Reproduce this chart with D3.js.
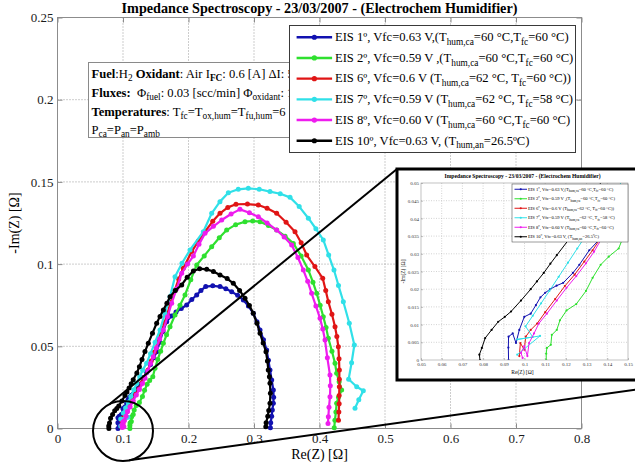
<!DOCTYPE html>
<html>
<head>
<meta charset="utf-8">
<script src="https://cdn.jsdelivr.net/npm/d3@7"></script>
<style>
  body { margin: 0; background: #fff; }
  svg { display: block; }
  text { font-family: "Liberation Serif", "Times New Roman", serif; white-space: pre; }
</style>
</head>
<body>
<svg id="chart" width="635" height="470"></svg>
<script>
// ---- data -------------------------------------------------------------
const chartTitle = "Impedance Spectroscopy - 23/03/2007 - (Electrochem Humidifier)";
const xLabel = "Re(Z) [Ω]";
const yLabel = "-Im(Z) [Ω]";

const xTicks = [0, 0.1, 0.2, 0.3, 0.4, 0.5, 0.6, 0.7, 0.8];
const yTicks = [0, 0.05, 0.1, 0.15, 0.2, 0.25];
const insetXTicks = [0.05, 0.06, 0.07, 0.08, 0.09, 0.1, 0.11, 0.12, 0.13, 0.14, 0.15];
const insetYTicks = [0, 0.005, 0.01, 0.015, 0.02, 0.025, 0.03, 0.035, 0.04, 0.045, 0.05];

// Nyquist points [Re(Z), -Im(Z)] in ohm
const eis1 = [[0.0923,0.0000],[0.0922,0.0035],[0.0923,0.0066],[0.0943,0.0075],[0.0959,0.0048],[0.0975,0.0085],[0.0999,0.0122],[0.1030,0.0131],[0.1055,0.0155],[0.1077,0.0177],[0.1100,0.0190],[0.1124,0.0200],[0.1155,0.0210],[0.1187,0.0218],[0.1234,0.0246],[0.1265,0.0269],[0.1313,0.0310],[0.1361,0.0340],[0.1420,0.0390],[0.1470,0.0430],[0.1514,0.0467],[0.1560,0.0525],[0.1610,0.0590],[0.1667,0.0650],[0.1740,0.0685],[0.1810,0.0708],[0.1890,0.0730],[0.1972,0.0751],[0.2050,0.0785],[0.2125,0.0812],[0.2190,0.0840],[0.2263,0.0863],[0.2370,0.0868],[0.2481,0.0863],[0.2570,0.0850],[0.2659,0.0832],[0.2750,0.0810],[0.2837,0.0782],[0.2915,0.0745],[0.2989,0.0701],[0.3045,0.0650],[0.3092,0.0599],[0.3145,0.0540],[0.3193,0.0477],[0.3220,0.0415],[0.3244,0.0356],[0.3270,0.0295],[0.3295,0.0234],[0.3300,0.0190],[0.3295,0.0153],[0.3280,0.0113],[0.3270,0.0075],[0.3255,0.0035],[0.3250,0.0005]];

const eis2 = [[0.1105,0.0000],[0.1105,0.0018],[0.1108,0.0034],[0.1127,0.0043],[0.1132,0.0071],[0.1156,0.0085],[0.1171,0.0112],[0.1203,0.0140],[0.1250,0.0158],[0.1297,0.0195],[0.1329,0.0232],[0.1368,0.0269],[0.1407,0.0292],[0.1455,0.0315],[0.1489,0.0366],[0.1530,0.0420],[0.1575,0.0470],[0.1616,0.0518],[0.1665,0.0570],[0.1718,0.0619],[0.1794,0.0690],[0.1870,0.0750],[0.1947,0.0812],[0.2035,0.0905],[0.2125,0.0995],[0.2240,0.1050],[0.2354,0.1106],[0.2470,0.1160],[0.2583,0.1207],[0.2720,0.1240],[0.2863,0.1258],[0.2980,0.1262],[0.3092,0.1258],[0.3220,0.1235],[0.3346,0.1207],[0.3475,0.1170],[0.3600,0.1126],[0.3720,0.1050],[0.3830,0.0964],[0.3900,0.0890],[0.3957,0.0822],[0.4010,0.0750],[0.4058,0.0680],[0.4100,0.0615],[0.4135,0.0549],[0.4190,0.0470],[0.4237,0.0397],[0.4262,0.0336],[0.4300,0.0285],[0.4338,0.0234],[0.4290,0.0190],[0.4262,0.0153],[0.4250,0.0100],[0.4235,0.0050],[0.4225,0.0005]];

const eis6 = [[0.0975,0.0011],[0.0980,0.0048],[0.0999,0.0029],[0.1006,0.0066],[0.1030,0.0085],[0.1061,0.0103],[0.1100,0.0135],[0.1148,0.0172],[0.1195,0.0209],[0.1242,0.0241],[0.1289,0.0278],[0.1329,0.0310],[0.1380,0.0355],[0.1430,0.0410],[0.1480,0.0465],[0.1530,0.0525],[0.1580,0.0585],[0.1630,0.0640],[0.1680,0.0700],[0.1730,0.0770],[0.1790,0.0840],[0.1850,0.0910],[0.1920,0.0975],[0.2049,0.1076],[0.2150,0.1140],[0.2252,0.1197],[0.2370,0.1260],[0.2481,0.1309],[0.2600,0.1345],[0.2725,0.1364],[0.2900,0.1365],[0.3066,0.1359],[0.3200,0.1340],[0.3346,0.1309],[0.3490,0.1255],[0.3626,0.1197],[0.3720,0.1130],[0.3804,0.1055],[0.3930,0.0985],[0.4049,0.0914],[0.4095,0.0840],[0.4135,0.0771],[0.4190,0.0695],[0.4237,0.0619],[0.4265,0.0560],[0.4288,0.0498],[0.4298,0.0425],[0.4303,0.0356],[0.4303,0.0300],[0.4303,0.0254],[0.4300,0.0200],[0.4300,0.0150],[0.4295,0.0100],[0.4290,0.0050]];

const eis7 = [[0.0965,0.0015],[0.1075,0.0068],[0.0965,0.0058],[0.1040,0.0065],[0.1005,0.0095],[0.1040,0.0125],[0.1080,0.0160],[0.1120,0.0195],[0.1165,0.0235],[0.1210,0.0275],[0.1255,0.0315],[0.1300,0.0355],[0.1360,0.0397],[0.1420,0.0455],[0.1490,0.0525],[0.1565,0.0599],[0.1640,0.0700],[0.1718,0.0802],[0.1794,0.0923],[0.1900,0.1005],[0.2023,0.1086],[0.2226,0.1197],[0.2354,0.1309],[0.2480,0.1380],[0.2608,0.1434],[0.2760,0.1455],[0.2913,0.1461],[0.3080,0.1455],[0.3244,0.1441],[0.3400,0.1428],[0.3550,0.1406],[0.3690,0.1350],[0.3830,0.1279],[0.3945,0.1215],[0.4058,0.1147],[0.4140,0.1055],[0.4221,0.0964],[0.4290,0.0870],[0.4364,0.0771],[0.4455,0.0640],[0.4532,0.0508],[0.4490,0.0400],[0.4445,0.0300],[0.4568,0.0254],[0.4669,0.0230],[0.4600,0.0175],[0.4542,0.0123]];

const eis8 = [[0.0991,0.0006],[0.0983,0.0020],[0.0999,0.0039],[0.1014,0.0011],[0.1022,0.0048],[0.1046,0.0075],[0.1069,0.0103],[0.1108,0.0131],[0.1156,0.0168],[0.1203,0.0204],[0.1250,0.0237],[0.1297,0.0273],[0.1336,0.0306],[0.1380,0.0350],[0.1420,0.0395],[0.1463,0.0437],[0.1510,0.0490],[0.1560,0.0545],[0.1616,0.0599],[0.1680,0.0680],[0.1743,0.0762],[0.1820,0.0850],[0.1896,0.0944],[0.1985,0.1000],[0.2074,0.1049],[0.2160,0.1120],[0.2252,0.1187],[0.2380,0.1230],[0.2507,0.1268],[0.2650,0.1305],[0.2786,0.1333],[0.2930,0.1312],[0.3066,0.1288],[0.3200,0.1250],[0.3346,0.1207],[0.3460,0.1165],[0.3575,0.1116],[0.3670,0.1040],[0.3753,0.0964],[0.3820,0.0895],[0.3880,0.0822],[0.3945,0.0745],[0.4008,0.0670],[0.4050,0.0605],[0.4084,0.0538],[0.4120,0.0430],[0.4160,0.0325],[0.4165,0.0260],[0.4160,0.0193],[0.4145,0.0130],[0.4135,0.0072],[0.4130,0.0030]];

const eis10 = [[0.0785,0.0000],[0.0782,0.0015],[0.0794,0.0034],[0.0810,0.0062],[0.0841,0.0085],[0.0873,0.0108],[0.0905,0.0122],[0.0935,0.0137],[0.0983,0.0168],[0.1030,0.0200],[0.1060,0.0222],[0.1093,0.0246],[0.1125,0.0272],[0.1156,0.0296],[0.1211,0.0338],[0.1250,0.0375],[0.1290,0.0420],[0.1335,0.0468],[0.1386,0.0518],[0.1450,0.0580],[0.1514,0.0640],[0.1565,0.0682],[0.1616,0.0721],[0.1670,0.0762],[0.1718,0.0802],[0.1800,0.0840],[0.1896,0.0873],[0.1980,0.0920],[0.2074,0.0958],[0.2170,0.0972],[0.2278,0.0968],[0.2380,0.0955],[0.2481,0.0934],[0.2590,0.0912],[0.2684,0.0883],[0.2780,0.0840],[0.2863,0.0792],[0.2930,0.0748],[0.2989,0.0701],[0.3045,0.0640],[0.3092,0.0579],[0.3140,0.0520],[0.3183,0.0467],[0.3205,0.0410],[0.3218,0.0356],[0.3235,0.0315],[0.3244,0.0275],[0.3250,0.0215],[0.3244,0.0153],[0.3225,0.0110],[0.3210,0.0075],[0.3185,0.0035],[0.3180,0.0010]];

// legend entries: [text, style] where style 0 = normal, 1 = subscript
const legendLabels = [
  [["EIS 1º, Vfc=0.63 V,(T",0],["hum,ca",1],["=60 °C,T",0],["fc",1],["=60 °C)",0]],
  [["EIS 2º, Vfc=0.59 V ,(T",0],["hum,ca",1],["=60 °C,T",0],["fc",1],["=60 °C)",0]],
  [["EIS 6º, Vfc=0.6 V (T",0],["hum,ca",1],["=62 °C, T",0],["fc",1],["=60 °C))",0]],
  [["EIS 7º, Vfc=0.59 V (T",0],["hum,ca",1],["=62 °C, T",0],["fc",1],["=58 °C)",0]],
  [["EIS 8º, Vfc=0.60 V (T",0],["hum,ca",1],["=60 °C,T",0],["fc",1],["=60 °C)",0]],
  [["EIS 10º, Vfc=0.63 V, (T",0],["hum,an",1],["=26.5ºC)",0]]
];
const seriesColors = ["#1212b0", "#2fe02f", "#e01515", "#30e0e8", "#ee1cee", "#000000"];
const seriesData = [eis1, eis2, eis6, eis7, eis8, eis10];

// test conditions box: style b = bold, s = subscript, sb = bold subscript
const noteLines = [
  [["Fuel","b"],[":H",""],["2","s"],[" Oxidant","b"],[": Air I",""],["FC","sb"],[": 0.6 [A] ΔI: 5",""]],
  [["Fluxes:","b"],["  Φ",""],["fuel","s"],[": 0.03 [scc/min] Φ",""],["oxidant","s"],[": 1",""]],
  [["Temperatures","b"],[": T",""],["fc","s"],["=T",""],["ox,hum","s"],["=T",""],["fu,hum","s"],["=6",""]],
  [["P",""],["ca","s"],["=P",""],["an","s"],["=P",""],["amb","s"]]
];

// ---- helpers ----------------------------------------------------------
function richText(textSel, segs, fs) {
  let shift = 0;
  segs.forEach(([t, st]) => {
    const sub = (st === 1 || st === "s" || st === "sb");
    const bold = (st === "b" || st === "sb");
    const target = sub ? 0.3 * fs : 0;
    textSel.append("tspan")
      .attr("dy", target - shift)
      .attr("font-size", sub ? fs * 0.74 : fs)
      .attr("font-weight", bold ? "bold" : "normal")
      .text(t);
    shift = target;
  });
}

const svg = d3.select("#chart");

// ---- main axes --------------------------------------------------------
const x = d3.scaleLinear().domain([0, 0.8]).range([57.5, 581.5]);
const y = d3.scaleLinear().domain([0, 0.25]).range([428.5, 17.5]);

const main = svg.append("g");

// dotted grid
main.append("g").selectAll("line").data(xTicks.slice(1, -1)).join("line")
  .attr("x1", d => x(d)).attr("x2", d => x(d))
  .attr("y1", y(0.25)).attr("y2", y(0))
  .attr("stroke", "#9a9a9a").attr("stroke-width", 1).attr("stroke-dasharray", "1,2");
main.append("g").selectAll("line").data(yTicks.slice(1, -1)).join("line")
  .attr("y1", d => y(d)).attr("y2", d => y(d))
  .attr("x1", x(0)).attr("x2", x(0.8))
  .attr("stroke", "#9a9a9a").attr("stroke-width", 1).attr("stroke-dasharray", "1,2");

function styleAxis(g, fs) {
  g.select(".domain").remove();
  g.selectAll(".tick line").attr("stroke", "#8c8c8c");
  g.selectAll(".tick text").attr("fill", "#1a1a1a").attr("font-size", fs)
    .attr("font-family", "Liberation Serif, Times New Roman, serif");
}
const fmt = d => String(d);
main.append("g").attr("transform", `translate(0,${y(0)})`)
  .call(d3.axisBottom(x).tickValues(xTicks).tickFormat(fmt).tickSizeInner(-5).tickSizeOuter(0).tickPadding(5))
  .call(g => styleAxis(g, 13));
main.append("g").attr("transform", `translate(0,${y(0.25)})`)
  .call(d3.axisTop(x).tickValues(xTicks).tickFormat("").tickSizeInner(-5).tickSizeOuter(0))
  .call(g => styleAxis(g, 13));
main.append("g").attr("transform", `translate(${x(0)},0)`)
  .call(d3.axisLeft(y).tickValues(yTicks).tickFormat(fmt).tickSizeInner(-5).tickSizeOuter(0).tickPadding(4))
  .call(g => styleAxis(g, 13));
main.append("g").attr("transform", `translate(${x(0.8)},0)`)
  .call(d3.axisRight(y).tickValues(yTicks).tickFormat("").tickSizeInner(-5).tickSizeOuter(0))
  .call(g => styleAxis(g, 13));
main.append("rect")
  .attr("x", x(0)).attr("y", y(0.25))
  .attr("width", x(0.8) - x(0)).attr("height", y(0) - y(0.25))
  .attr("fill", "none").attr("stroke", "#8c8c8c").attr("stroke-width", 1);

// title and axis labels
svg.append("text").attr("x", (x(0) + x(0.8)) / 2).attr("y", 12.5)
  .attr("text-anchor", "middle").attr("font-size", 14.2).attr("font-weight", "bold")
  .text(chartTitle);
svg.append("text").attr("x", (x(0) + x(0.8)) / 2).attr("y", 459)
  .attr("text-anchor", "middle").attr("font-size", 14).text(xLabel);
svg.append("text").attr("transform", `translate(19,${(y(0) + y(0.25)) / 2}) rotate(-90)`)
  .attr("text-anchor", "middle").attr("font-size", 14).text(yLabel);

// ---- curves -----------------------------------------------------------
function drawSeries(g, xs, ys, lw, r) {
  const line = d3.line().x(d => xs(d[0])).y(d => ys(d[1]));
  seriesData.forEach((pts, i) => {
    const s = g.append("g");
    s.append("path").attr("d", line(pts)).attr("fill", "none")
      .attr("stroke", seriesColors[i]).attr("stroke-width", lw).attr("stroke-linejoin", "round");
    s.selectAll("circle").data(pts).join("circle")
      .attr("cx", d => xs(d[0])).attr("cy", d => ys(d[1])).attr("r", r)
      .attr("fill", seriesColors[i]);
  });
}
drawSeries(main.append("g"), x, y, 2.2, 2.5);

// ---- test conditions box -------------------------------------------------
const noteClip = svg.append("defs").append("clipPath").attr("id", "noteClip");
noteClip.append("rect").attr("x", 80).attr("y", 55).attr("width", 209).attr("height", 90);
const note = svg.append("g").attr("clip-path", "url(#noteClip)");
note.append("rect").attr("x", 88.5).attr("y", 62.5).attr("width", 240).attr("height", 75)
  .attr("fill", "#fff").attr("stroke", "#8a8a8a").attr("stroke-width", 1);
const noteBase = [77.5, 96.5, 115.5, 133.5];
noteLines.forEach((segs, i) => {
  const t = note.append("text").attr("x", 91.5).attr("y", noteBase[i]).attr("font-size", 12.6);
  richText(t, segs, 12.6);
});

// ---- legend -------------------------------------------------------------
function drawLegend(g, lx, ly, w, h, step, fs, sampleLen, lw, r) {
  g.append("rect").attr("x", lx).attr("y", ly).attr("width", w).attr("height", h)
    .attr("fill", "#fff").attr("stroke", "#3a3a3a").attr("stroke-width", lw > 1 ? 1 : 0.5);
  legendLabels.forEach((segs, i) => {
    const cy = ly + step * (i + 0.5) + (h - step * legendLabels.length) / 2;
    const x0 = lx + sampleLen * 0.2;
    g.append("line").attr("x1", x0).attr("x2", x0 + sampleLen)
      .attr("y1", cy).attr("y2", cy).attr("stroke", seriesColors[i]).attr("stroke-width", lw);
    g.append("circle").attr("cx", x0 + sampleLen / 2).attr("cy", cy).attr("r", r)
      .attr("fill", seriesColors[i]);
    const t = g.append("text").attr("x", x0 + sampleLen + sampleLen * 0.08)
      .attr("y", cy + fs * 0.3).attr("font-size", fs);
    richText(t, segs, fs);
  });
}
drawLegend(svg.append("g"), 289.5, 25.5, 286, 127, 20.7, 12.6, 35.5, 2.4, 2.6);

// ---- magnifier --------------------------------------------------------
const lens = { cx: x(0.1), cy: y(0) + 2.5, r: 30 };
const inset = { x: 397, y: 169, w: 308, h: 211 };
const ang = a => [lens.cx + lens.r * Math.cos(a * Math.PI / 180), lens.cy + lens.r * Math.sin(a * Math.PI / 180)];
const mag = svg.append("g").attr("stroke", "#000").attr("stroke-width", 2).attr("fill", "none");
mag.append("circle").attr("cx", lens.cx).attr("cy", lens.cy).attr("r", lens.r);
const p1 = ang(-117), p2 = ang(78);
mag.append("line").attr("x1", p1[0]).attr("y1", p1[1]).attr("x2", inset.x).attr("y2", inset.y);
mag.append("line").attr("x1", p2[0]).attr("y1", p2[1]).attr("x2", inset.x + inset.w).attr("y2", inset.y + inset.h);

// ---- zoomed inset -------------------------------------------------------
const ig = svg.append("g");
ig.append("rect").attr("x", inset.x).attr("y", inset.y).attr("width", inset.w).attr("height", inset.h)
  .attr("fill", "#fff").attr("stroke", "#000").attr("stroke-width", 3);

const xi = d3.scaleLinear().domain([0.05, 0.15]).range([421, 628]);
const yi = d3.scaleLinear().domain([0, 0.05]).range([360, 183]);

ig.append("g").selectAll("line").data(insetXTicks.slice(1, -1)).join("line")
  .attr("x1", d => xi(d)).attr("x2", d => xi(d)).attr("y1", yi(0.05)).attr("y2", yi(0))
  .attr("stroke", "#b5b5b5").attr("stroke-width", 0.6).attr("stroke-dasharray", "1,1.5");
ig.append("g").selectAll("line").data(insetYTicks.slice(1, -1)).join("line")
  .attr("y1", d => yi(d)).attr("y2", d => yi(d)).attr("x1", xi(0.05)).attr("x2", xi(0.15))
  .attr("stroke", "#b5b5b5").attr("stroke-width", 0.6).attr("stroke-dasharray", "1,1.5");

function styleInsetAxis(g) {
  g.select(".domain").remove();
  g.selectAll(".tick line").attr("stroke", "#999").attr("stroke-width", 0.6);
  g.selectAll(".tick text").attr("fill", "#333").attr("font-size", 5)
    .attr("font-family", "Liberation Serif, Times New Roman, serif");
}
ig.append("g").attr("transform", `translate(0,${yi(0)})`)
  .call(d3.axisBottom(xi).tickValues(insetXTicks).tickFormat(fmt).tickSizeInner(-2).tickSizeOuter(0).tickPadding(2.5))
  .call(styleInsetAxis);
ig.append("g").attr("transform", `translate(${xi(0.05)},0)`)
  .call(d3.axisLeft(yi).tickValues(insetYTicks).tickFormat(fmt).tickSizeInner(-2).tickSizeOuter(0).tickPadding(2))
  .call(styleInsetAxis);

const iclip = svg.append("defs").append("clipPath").attr("id", "insetClip");
iclip.append("rect").attr("x", xi(0.05)).attr("y", yi(0.05)).attr("width", xi(0.15) - xi(0.05)).attr("height", yi(0) - yi(0.05));
drawSeries(ig.append("g").attr("clip-path", "url(#insetClip)"), xi, yi, 1, 1.1);

ig.append("rect").attr("x", xi(0.05)).attr("y", yi(0.05))
  .attr("width", xi(0.15) - xi(0.05)).attr("height", yi(0) - yi(0.05))
  .attr("fill", "none").attr("stroke", "#999").attr("stroke-width", 0.6);

ig.append("text").attr("x", (xi(0.05) + xi(0.15)) / 2 - 2).attr("y", 178)
  .attr("text-anchor", "middle").attr("font-size", 5.6).attr("font-weight", "bold").text(chartTitle);
ig.append("text").attr("x", (xi(0.05) + xi(0.15)) / 2 - 2).attr("y", 374)
  .attr("text-anchor", "middle").attr("font-size", 5.5).text(xLabel);
ig.append("text").attr("transform", `translate(405,${(yi(0) + yi(0.05)) / 2}) rotate(-90)`)
  .attr("text-anchor", "middle").attr("font-size", 5.5).text(yLabel);

drawLegend(ig.append("g"), 512, 184, 116, 58, 9.5, 4.6, 12.5, 1, 1.1);
</script>
</body>
</html>
